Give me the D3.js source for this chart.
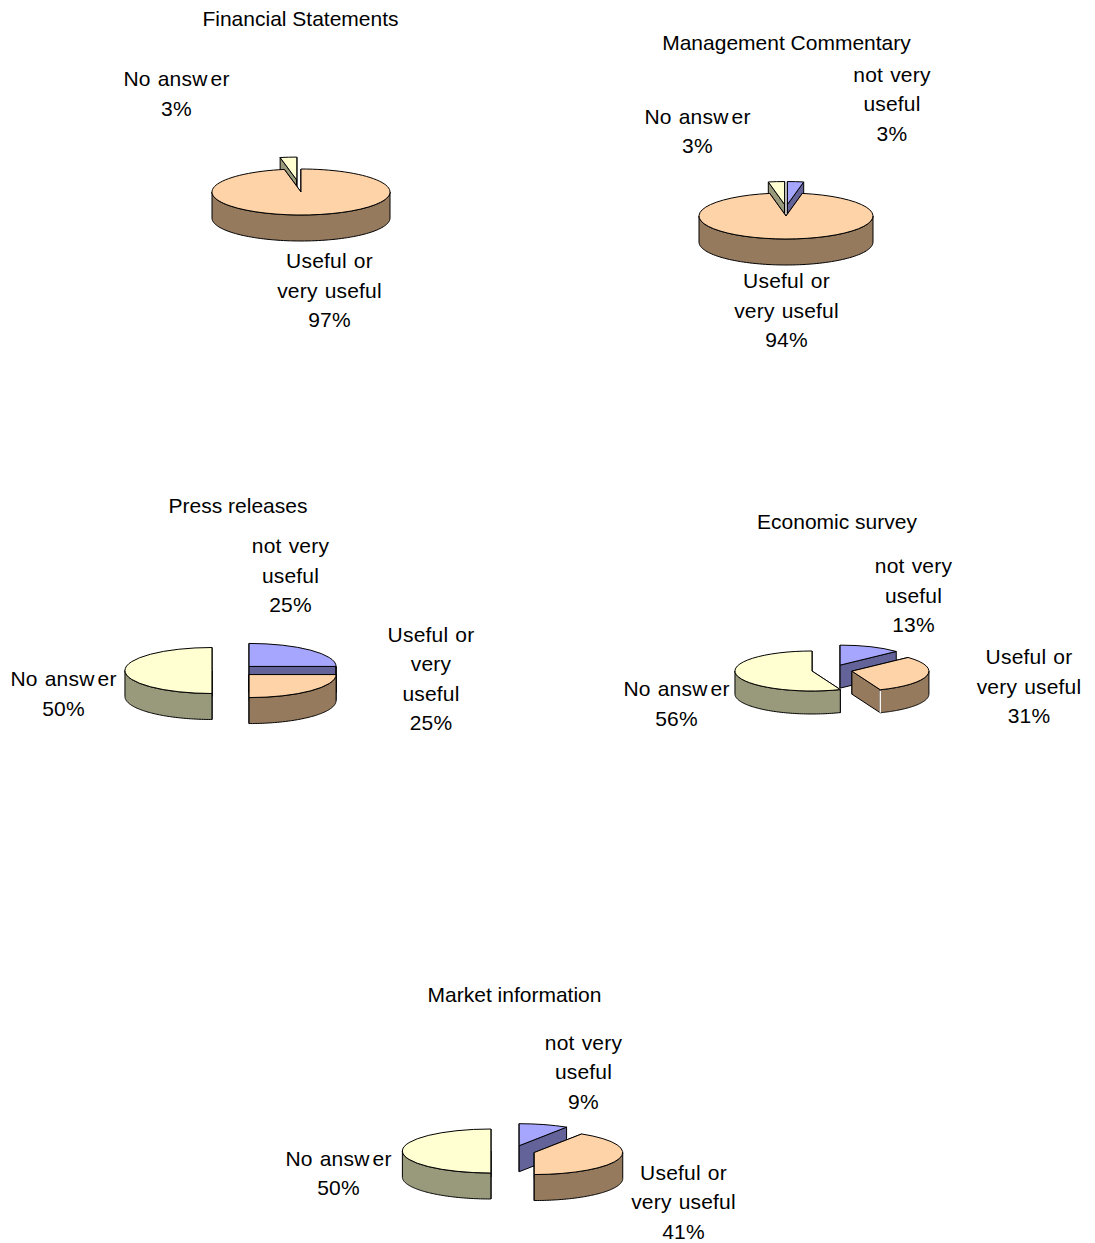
<!DOCTYPE html>
<html><head><meta charset="utf-8">
<script src="https://cdn.jsdelivr.net/npm/d3@7/dist/d3.min.js"></script>
<style>html,body{margin:0;padding:0;background:#fff}svg{display:block}
text{font-family:"Liberation Sans",Arial,sans-serif;font-size:21px;fill:#000;text-anchor:middle;letter-spacing:.2px;word-spacing:1px}</style>
</head><body><svg id="c" width="1095" height="1243"></svg>
<script>
// ---- data ----
const chartTitles = ["Financial Statements","Management Commentary","Press releases","Economic survey","Market information"];
const seriesNames = ["not very useful","Useful or very useful","No answer"];
const financialValues  = [0,97,3];
const managementValues = [3,94,3];
const pressValues      = [25,25,50];
const economicValues   = [13,31,56];
const marketValues     = [9,41,50];
const allValues = [financialValues,managementValues,pressValues,economicValues,marketValues];

// ---- label wrapping as printed in the chart ----
const labelLines = [
  [null,["Useful or","very useful"],["No answer"]],
  [["not very","useful"],["Useful or","very useful"],["No answer"]],
  [["not very","useful"],["Useful or","very","useful"],["No answer"]],
  [["not very","useful"],["Useful or","very useful"],["No answer"]],
  [["not very","useful"],["Useful or","very useful"],["No answer"]]
];

// ---- layout and style ----
const topColors  = ["#A6A6FF","#FFD3A8","#FFFFD2"];
const wallColors = ["#636399","#967A5E","#99997B"];
const layout = [
  {cx:301,  cy:192,  rx:89, ry:23, depth:26, ex:.5,  ey:.52, title:[300.5,26],  labels:[null,[329.5,268],[176.5,86]]},
  {cx:786,  cy:216,  rx:87, ry:23, depth:26, ex:.17, ey:.5,  title:[786.5,50],  labels:[[892,81.5],[786.5,288],[697.5,123.5]]},
  {cx:233.7,cy:670.5,rx:87, ry:23, depth:26, ex:.25, ey:.25, title:[238,513],   labels:[[290.5,553],[431,641.5],[63.5,686]]},
  {cx:832,  cy:670,  rx:77, ry:20, depth:23, ex:.265,ey:.265,title:[837,529],   labels:[[913.5,573],[1029,664],[676.5,696]], seam:1},
  {cx:513,  cy:1151, rx:88.5, ry:22, depth:26, ex:.25, ey:.25, title:[514.5,1002],labels:[[583.5,1049.5],[683.5,1179.5],[338.5,1165.5]]}
];
const lineGap = 29.5;

const svg = d3.select("#c");
const pie = d3.pie().sort(null).value(d=>d);
const lineGen = d3.line();
const tau = Math.PI*2;

function drawLabelText(sel, str){
  // the source rendering leaves a small gap after "answ"
  const i = str.indexOf("answer");
  if(i<0){ sel.text(str); return; }
  sel.append("tspan").text(str.slice(0,i+4));
  sel.append("tspan").attr("dx",3).text(str.slice(i+4));
}

allValues.forEach((vals,ci)=>{
  const L = layout[ci];
  const g = svg.append("g");
  const pt = a=>[Math.sin(a)*L.rx,-Math.cos(a)*L.ry];
  const arcs = pie(vals).map((a,i)=>({...a,i})).filter(a=>a.value>0);
  arcs.forEach(a=>{
    a.mid=(a.startAngle+a.endAngle)/2;
    const big = a.value>90;
    a.dx = big?0:Math.sin(a.mid)*L.rx*L.ex;
    a.dy = big?0:-Math.cos(a.mid)*L.ry*L.ey;
  });
  // paint from back to front
  arcs.sort((p,q)=>Math.cos(q.mid)-Math.cos(p.mid));
  const topArc = d3.arc().innerRadius(0).outerRadius(L.rx);
  arcs.forEach(a=>{
    const s = g.append("g").attr("transform",`translate(${L.cx+a.dx},${L.cy+a.dy})`);
    const style = (p,fill)=>p.attr("fill",fill).attr("stroke","#000").attr("stroke-width",1).attr("stroke-linejoin","round");
    // cut faces
    [a.startAngle,a.endAngle].forEach(e=>{
      const p=pt(e);
      style(s.append("path").attr("d",lineGen([[0,0],p,[p[0],p[1]+L.depth],[0,L.depth]])+"Z"),wallColors[a.i]);
    });
    // outer wall on the front half
    const w0=Math.max(a.startAngle,tau/4), w1=Math.min(a.endAngle,tau*3/4);
    if(w1>w0){
      const n=80, samples=d3.range(n+1).map(k=>w0+(w1-w0)*k/n);
      const upper=samples.map(pt);
      const lower=upper.map(p=>[p[0],p[1]+L.depth]).reverse();
      style(s.append("path").attr("d",lineGen(upper.concat(lower))+"Z"),wallColors[a.i]);
    }
    // top face
    style(s.append("path").attr("d",topArc(a))
      .attr("transform",`scale(1,${L.ry/L.rx})`),topColors[a.i])
      .attr("vector-effect","non-scaling-stroke");
    if(L.seam && a.i===1){
      const p=pt(a.endAngle);
      s.append("line").attr("x1",p[0]).attr("x2",p[0]).attr("y1",p[1]+1).attr("y2",p[1]+L.depth)
       .attr("stroke","#fff").attr("stroke-width",1.4);
    }
  });
  // texts
  svg.append("text").attr("x",L.title[0]).attr("y",L.title[1]).style("word-spacing","0").style("letter-spacing","0").text(chartTitles[ci]);
  seriesNames.forEach((n,i)=>{
    const pos=L.labels[i];
    if(!pos||vals[i]===0) return;
    const lines=labelLines[ci][i].concat([vals[i]+"%"]);
    lines.forEach((t,k)=>{
      drawLabelText(svg.append("text").attr("x",pos[0]).attr("y",pos[1]+k*lineGap),t);
    });
  });
});
</script></body></html>
